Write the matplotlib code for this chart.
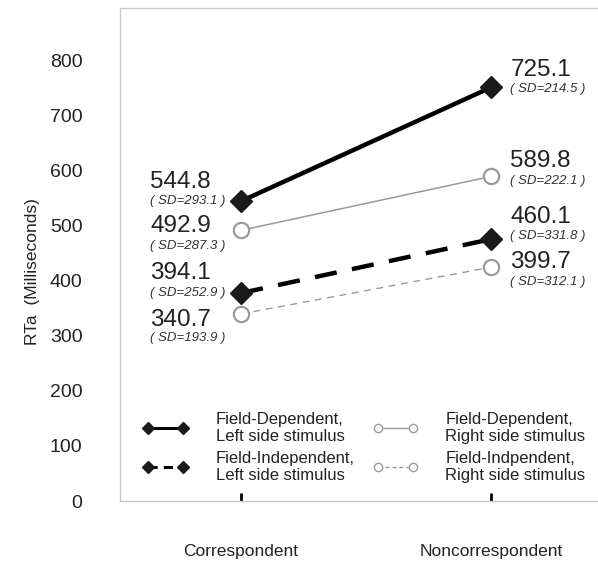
import matplotlib
matplotlib.use("Agg")
import matplotlib.pyplot as plt
from matplotlib.lines import Line2D

conditions = ["Correspondent", "Noncorrespondent"]

# plotted positions
fd_left = [545, 752]
fd_right = [492, 590]
fi_left = [378, 476]
fi_right = [340, 425]

# printed means and SDs
fd_left_lbl = ["544.8", "725.1"]
fd_right_lbl = ["492.9", "589.8"]
fi_left_lbl = ["394.1", "460.1"]
fi_right_lbl = ["340.7", "399.7"]
fd_left_sd = ["293.1", "214.5"]
fd_right_sd = ["287.3", "222.1"]
fi_left_sd = ["252.9", "331.8"]
fi_right_sd = ["193.9", "312.1"]

legend_labels = ["Field-Dependent,\nLeft side stimulus",
                 "Field-Independent,\nLeft side stimulus",
                 "Field-Dependent,\nRight side stimulus",
                 "Field-Indpendent,\nRight side stimulus"]

yticks = [0, 100, 200, 300, 400, 500, 600, 700, 800]

plt.rcParams['font.family'] = ['Liberation Sans', 'DejaVu Sans']

def main():
    fig = plt.figure(figsize=(5.98, 5.63), dpi=100)
    ax = fig.add_axes([120/598, 62/563, 1.0 - 120/598 + 0.01, 493/563])

    x = [0, 1]
    gray = "#9a9a9a"
    ax.plot(x, fd_left, color="black", lw=3.2, marker="D", ms=11,
            mfc="#1a1a1a", mec="#1a1a1a", zorder=4)
    ax.plot(x, fd_right, color=gray, lw=1.1, marker="o", ms=11,
            mfc="white", mec=gray, mew=1.6, zorder=3)
    ax.plot(x, fi_left, color="black", lw=3.2, ls=(0, (5, 3.5)), marker="D",
            ms=11, mfc="#1a1a1a", mec="#1a1a1a", zorder=4)
    ax.plot(x, fi_right, color=gray, lw=1.0, ls=(0, (5, 4)), marker="o",
            ms=11, mfc="white", mec=gray, mew=1.6, zorder=3)

    # value labels: offsets in px for [number, sd] per point
    series = [
        (fd_left, fd_left_lbl, fd_left_sd, [(19, 0), (17, -2)]),
        (fd_right, fd_right_lbl, fd_right_sd, [(4, -16), (15, -5)]),
        (fi_left, fi_left_lbl, fi_left_sd, [(20, 0), (22, 3)]),
        (fi_right, fi_right_lbl, fi_right_sd, [(-6, -24), (5, -15)]),
    ]
    for vals, lbls, sds, offs in series:
        for i in range(2):
            dx = -91 if i == 0 else 19
            ax.annotate(lbls[i], xy=(x[i], vals[i]), xytext=(dx, offs[i][0]),
                        textcoords="offset pixels", ha="left", va="center",
                        fontsize=17.5, color="#222222")
            ax.annotate("( SD=" + sds[i] + " )", xy=(x[i], vals[i]),
                        xytext=(dx, offs[i][1]), textcoords="offset pixels",
                        ha="left", va="center", fontsize=9.5, style="italic",
                        color="#333333")

    ax.set_xlim(-0.484, 1.45)
    ax.set_ylim(0, 896)
    ax.set_yticks(yticks)
    ax.set_yticklabels([str(t) for t in yticks], fontsize=14, color="#222222")
    ax.tick_params(axis="y", length=0, pad=27)
    ax.set_xticks(x)
    ax.set_xticklabels(conditions, fontsize=12.5, color="#222222")
    ax.tick_params(axis="x", direction="in", length=6, width=2,
                   color="black", pad=31)
    for s in ax.spines.values():
        s.set_color("#c8c8c8")
        s.set_linewidth(1)

    fig.text(33/598, 1 - 272/563, "RTa  (Milliseconds)", rotation=90,
             ha="center", va="center", fontsize=12.5, color="#222222")

    handles = [
        Line2D([], [], color="black", lw=2.2, marker="D", ms=6, mfc="#1a1a1a", mec="#1a1a1a"),
        Line2D([], [], color="black", lw=2.2, ls=(0, (3, 2)), marker="D", ms=6,
               mfc="#1a1a1a", mec="#1a1a1a"),
        Line2D([], [], color=gray, lw=1, marker="o", ms=6, mfc="white", mec=gray),
        Line2D([], [], color=gray, lw=1, ls=(0, (3, 2)), marker="o", ms=6,
               mfc="white", mec=gray),
    ]
    leg = ax.legend(handles, legend_labels, ncol=2, numpoints=2, frameon=False,
                    loc="upper left", bbox_to_anchor=(143/598, 1 - 412/563),
                    bbox_transform=fig.transFigure, borderpad=0, borderaxespad=0,
                    handlelength=2.7, handletextpad=1.65, columnspacing=1.1,
                    labelspacing=0.45, fontsize=12)
    for t in leg.get_texts():
        t.set_color("#222222")
        t.set_linespacing(1.15)

    fig.savefig("out.png", dpi=100)

if __name__ == "__main__":
    main()
